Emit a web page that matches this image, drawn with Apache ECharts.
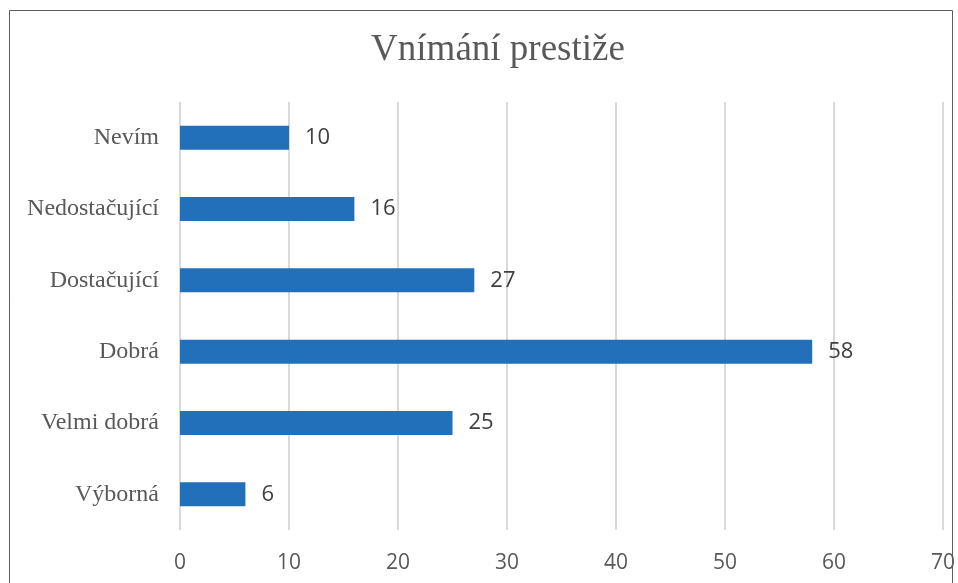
<!DOCTYPE html>
<html>
<head>
<meta charset="utf-8">
<script src="https://cdn.jsdelivr.net/npm/echarts@6/dist/echarts.min.js"></script>
<style>
  html, body { margin: 0; padding: 0; background: #ffffff; }
  #chart { width: 958px; height: 583px; }
</style>
</head>
<body>
<div id="chart"></div>
<script>
// Hodnocení prestiže – kategorie odspodu nahoru
const categories = ['Výborná', 'Velmi dobrá', 'Dobrá', 'Dostačující', 'Nedostačující', 'Nevím'];
const counts = [6, 25, 58, 27, 16, 10];
const titleText = 'Vnímání prestiže';

const chart = echarts.init(document.getElementById('chart'), null, { renderer: 'canvas' });

chart.setOption({
  backgroundColor: '#ffffff',
  animation: false,
  title: {
    text: titleText,
    left: 493,
    textAlign: 'center',
    top: 27,
    textStyle: {
      fontFamily: 'Liberation Serif',
      fontSize: 37,
      fontWeight: 'normal',
      color: '#595959'
    }
  },
  graphic: [{
    type: 'rect',
    shape: { x: 9.5, y: 10.5, width: 943, height: 620 },
    style: { fill: 'none', stroke: '#5e5e5e', lineWidth: 1 },
    silent: true,
    z: 100
  }],
  grid: { left: 180, right: 13, top: 102, bottom: 53, containLabel: false },
  xAxis: {
    type: 'value',
    min: 0,
    max: 70,
    interval: 10,
    axisLine: { show: false },
    axisTick: { show: false },
    splitLine: { show: true, lineStyle: { color: '#d9d9d9', width: 2 } },
    axisLabel: {
      margin: 23,
      fontFamily: 'Open Sans',
      fontSize: 21,
      color: '#595959'
    }
  },
  yAxis: {
    type: 'category',
    data: categories,
    axisLine: { show: false },
    axisTick: { show: false },
    axisLabel: {
      margin: 21,
      fontFamily: 'Liberation Serif',
      fontSize: 24,
      color: '#595959'
    }
  },
  series: [{
    type: 'bar',
    data: counts,
    barWidth: 24,
    itemStyle: { color: '#2170b9' },
    label: {
      show: true,
      position: 'right',
      distance: 16,
      fontFamily: 'Open Sans',
      fontSize: 22,
      color: '#404040'
    }
  }]
});
</script>
</body>
</html>
